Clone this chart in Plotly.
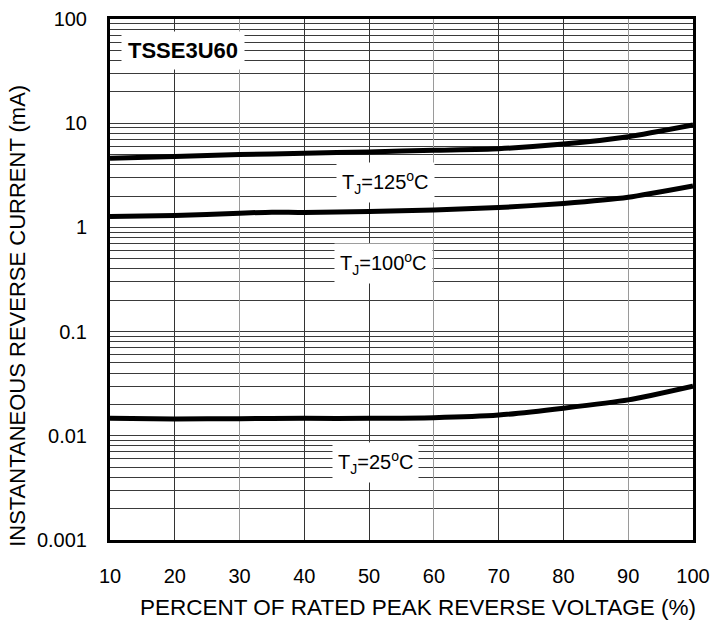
import math
import plotly.graph_objects as go

# Data
x_125 = [10, 20, 30, 40, 50, 60, 70, 80, 90, 100]
y_125 = [4.6, 4.8, 5.0, 5.15, 5.3, 5.5, 5.7, 6.3, 7.4, 9.6]

x_100 = [10, 20, 30, 35, 40, 50, 60, 70, 80, 90, 100]
y_100 = [1.27, 1.30, 1.37, 1.40, 1.39, 1.42, 1.47, 1.55, 1.70, 1.95, 2.5]

x_25 = [10, 20, 30, 40, 50, 60, 70, 80, 90, 100]
y_25 = [0.0147, 0.0145, 0.0146, 0.0147, 0.0147, 0.0149, 0.0158, 0.0184, 0.0221, 0.030]

x_ticks = [10, 20, 30, 40, 50, 60, 70, 80, 90, 100]
x_grid_gray = [30, 60, 90]
y_decades = [0.001, 0.01, 0.1, 1, 10, 100]
y_decade_labels = ["0.001", "0.01", "0.1", "1", "10", "100"]

labels = ["T<sub>J</sub>=125<sup>o</sup>C", "T<sub>J</sub>=100<sup>o</sup>C", "T<sub>J</sub>=25<sup>o</sup>C"]
label_x = [52.6, 52.2, 51.0]
label_y = [2.67, 0.455, 0.0056]
part_name = "TSSE3U60"
x_title = "PERCENT OF RATED PEAK REVERSE VOLTAGE (%)"
y_title = "INSTANTANEOUS REVERSE CURRENT (mA)"

FONT = "Liberation Sans, Arial, sans-serif"

# gridline tick values (1..9 per decade)
y_grid = []
y_grid_text = []
for d, lab in zip(y_decades, y_decade_labels):
    for m in range(1, 10):
        v = d * m
        if v > 100.0001:
            break
        y_grid.append(v)
        y_grid_text.append(lab if m == 1 else "")

fig = go.Figure()
for xs, ys in [(x_125, y_125), (x_100, y_100), (x_25, y_25)]:
    fig.add_trace(go.Scatter(x=xs, y=ys, mode="lines",
                             line=dict(color="black", width=5, shape="spline", smoothing=0.6),
                             showlegend=False, hoverinfo="skip"))
# invisible trace to activate the secondary (gray grid) x axis
fig.add_trace(go.Scatter(x=[x_ticks[0]], y=[y_25[0]], xaxis="x2", mode="markers",
                         marker=dict(opacity=0), showlegend=False, hoverinfo="skip"))

for t, lx, ly in zip(labels, label_x, label_y):
    fig.add_annotation(x=lx, y=math.log10(ly), text=t, showarrow=False,
                       font=dict(family=FONT, size=20, color="black"),
                       bgcolor="white", borderpad=5)

fig.add_annotation(x=21.3, y=math.log10(50), text="<b>" + part_name + "</b>",
                   showarrow=False, font=dict(family=FONT, size=22, color="black"),
                   bgcolor="white", borderpad=6)

fig.add_annotation(xref="paper", yref="paper", x=0.528, y=-0.1286, text=x_title,
                   xanchor="center", yanchor="middle",
                   showarrow=False, font=dict(family=FONT, size=22.5, color="black"))
fig.add_annotation(xref="paper", yref="paper", x=-0.158, y=0.43, text=y_title, textangle=-90,
                   xanchor="center", yanchor="middle",
                   showarrow=False, font=dict(family=FONT, size=22, color="black"))

fig.update_layout(
    width=714, height=625,
    margin=dict(l=110, r=21, t=19, b=85),
    paper_bgcolor="white", plot_bgcolor="white",
    font=dict(family=FONT, size=16, color="black"),
    xaxis=dict(
        range=[10, 100], tickvals=x_ticks, ticktext=[str(v) for v in x_ticks],
        showgrid=True, gridcolor="#333333", gridwidth=1,
        showline=True, linecolor="black", linewidth=3, mirror=True,
        ticks="", ticklabelstandoff=16, zeroline=False, automargin=False,
        tickfont=dict(family=FONT, size=20),
    ),
    xaxis2=dict(
        range=[10, 100], overlaying="x", tickvals=x_grid_gray,
        showticklabels=False, ticks="", showgrid=True, gridcolor="#9a9a9a", gridwidth=1,
        zeroline=False, automargin=False,
    ),
    yaxis=dict(
        type="log", range=[-3, 2], tickvals=y_grid, ticktext=y_grid_text,
        showgrid=True, gridcolor="#3a3a3a", gridwidth=1,
        showline=True, linecolor="black", linewidth=3, mirror=True,
        ticks="", ticklabelstandoff=16, zeroline=False, automargin=False,
        tickfont=dict(family=FONT, size=20),
    ),
)

fig.write_html("out.html", config={"displayModeBar": False},
               post_script="document.body.style.margin='0';document.body.style.overflow='hidden';")
